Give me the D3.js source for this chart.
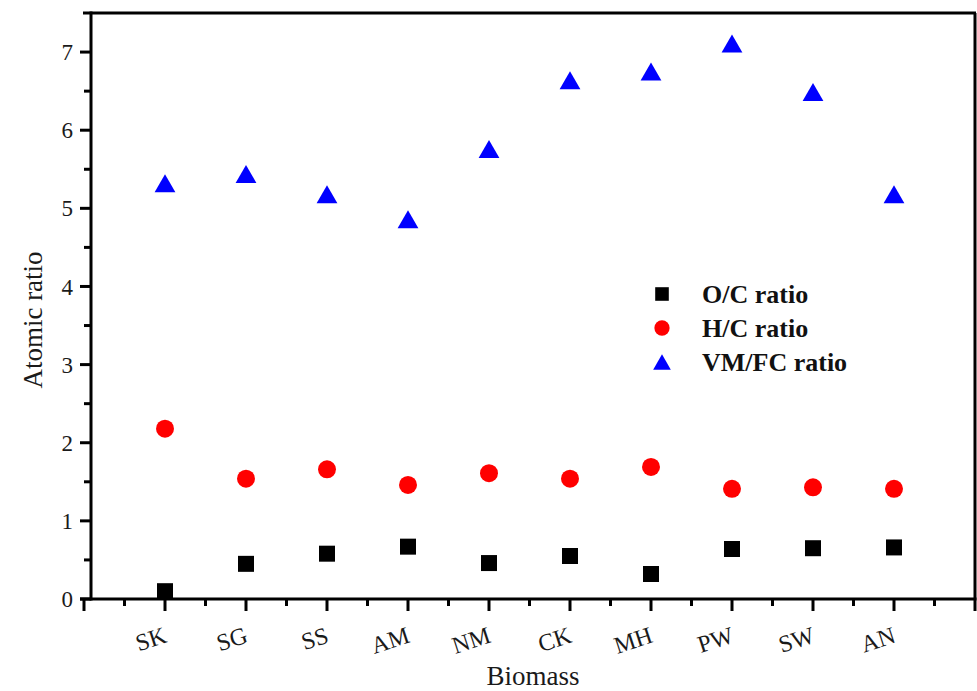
<!DOCTYPE html>
<html>
<head>
<meta charset="utf-8">
<script src="https://cdn.jsdelivr.net/npm/d3@7"></script>
<style>
  body { margin: 0; background: #fff; }
  text { font-family: "Liberation Serif", "Times New Roman", serif; }
</style>
</head>
<body>
<div id="chart"></div>
<script>
const biomass = ["SK", "SG", "SS", "AM", "NM", "CK", "MH", "PW", "SW", "AN"];
const ocRatio = [0.10, 0.45, 0.58, 0.67, 0.46, 0.55, 0.32, 0.64, 0.65, 0.66];
const hcRatio = [2.18, 1.54, 1.66, 1.46, 1.61, 1.54, 1.69, 1.41, 1.43, 1.41];
const vmfcRatio = [5.32, 5.44, 5.18, 4.86, 5.76, 6.64, 6.75, 7.11, 6.49, 5.18];
const yTicks = [0, 1, 2, 3, 4, 5, 6, 7];
const legendNames = ["O/C ratio", "H/C ratio", "VM/FC ratio"];

const width = 977;
const height = 691;

const svg = d3.select("#chart")
  .append("svg")
  .attr("width", width)
  .attr("height", height)
  .attr("viewBox", [0, 0, width, height]);

const x = d3.scaleLinear()
  .domain([0, biomass.length + 1])
  .range([84, 975]);

const y = d3.scaleLinear()
  .domain([0, 7.5])
  .range([599, 13]);

const yAxisX = 91;
const axisW = 3;

// marker shapes
const square = d3.symbol().type(d3.symbolSquare).size(256)();
const circle = d3.symbol().type(d3.symbolCircle).size(254)();
const triangle = "M0,-9L10.4,9L-10.4,9Z";

const series = [
  { name: legendNames[0], values: ocRatio, path: square, color: "#000000" },
  { name: legendNames[1], values: hcRatio, path: circle, color: "#ff0000" },
  { name: legendNames[2], values: vmfcRatio, path: triangle, color: "#0000ff" }
];

// frame: top and right lines
svg.append("line")
  .attr("x1", x(0) - 1).attr("x2", x.range()[1] + 1)
  .attr("y1", y(7.5)).attr("y2", y(7.5))
  .attr("stroke", "#000").attr("stroke-width", axisW);
svg.append("line")
  .attr("x1", x.range()[1]).attr("x2", x.range()[1])
  .attr("y1", y(7.5)).attr("y2", y(0))
  .attr("stroke", "#000").attr("stroke-width", axisW);

// x axis, major and minor ticks
const xMajor = d3.range(0, biomass.length + 2);
const xMinor = d3.range(0.5, biomass.length + 1, 1);

const gx = svg.append("g").attr("transform", `translate(0,${y(0)})`);
gx.append("line")
  .attr("x1", x(0) - 4).attr("x2", x.range()[1] + 1.5)
  .attr("stroke", "#000").attr("stroke-width", axisW);
gx.selectAll(".maj").data(xMajor).join("line")
  .attr("x1", d => x(d)).attr("x2", d => x(d))
  .attr("y1", 0).attr("y2", 12)
  .attr("stroke", "#000").attr("stroke-width", axisW);
gx.selectAll(".min").data(xMinor).join("line")
  .attr("x1", d => x(d)).attr("x2", d => x(d))
  .attr("y1", 0).attr("y2", 7)
  .attr("stroke", "#000").attr("stroke-width", axisW);

svg.append("g").selectAll("text").data(biomass).join("text")
  .attr("transform", (d, i) => `translate(${x(i + 1) + 3},642) rotate(-18)`)
  .attr("text-anchor", "end")
  .attr("font-size", 24)
  .attr("fill", "#1a1a1a")
  .text(d => d);

svg.append("text")
  .attr("x", (yAxisX + x.range()[1]) / 2)
  .attr("y", 685)
  .attr("text-anchor", "middle")
  .attr("font-size", 27)
  .attr("fill", "#1a1a1a")
  .text("Biomass");

// y axis
const gy = svg.append("g").attr("transform", `translate(${yAxisX},0)`);
gy.append("line")
  .attr("y1", y(7.5) - 1.5).attr("y2", y(0) + 1.5)
  .attr("stroke", "#000").attr("stroke-width", axisW);
gy.selectAll(".maj").data(yTicks).join("line")
  .attr("y1", d => y(d)).attr("y2", d => y(d))
  .attr("x1", 0).attr("x2", -11)
  .attr("stroke", "#000").attr("stroke-width", axisW);
gy.selectAll(".min").data(d3.range(0.5, 7.5, 1)).join("line")
  .attr("y1", d => y(d)).attr("y2", d => y(d))
  .attr("x1", 0).attr("x2", -7)
  .attr("stroke", "#000").attr("stroke-width", axisW);
gy.selectAll("text").data(yTicks).join("text")
  .attr("x", -18)
  .attr("y", d => y(d))
  .attr("dy", "0.35em")
  .attr("text-anchor", "end")
  .attr("font-size", 23)
  .attr("fill", "#1a1a1a")
  .text(d => d);

svg.append("text")
  .attr("transform", `translate(42,${(y(0) + y(7.5)) / 2 + 14}) rotate(-90)`)
  .attr("text-anchor", "middle")
  .attr("font-size", 27)
  .attr("fill", "#1a1a1a")
  .text("Atomic ratio");

// points
series.forEach(s => {
  svg.append("g").selectAll("path").data(s.values).join("path")
    .attr("transform", (d, i) => `translate(${x(i + 1)},${y(d)})`)
    .attr("d", s.path)
    .attr("fill", s.color);
});

// legend
const legend = svg.append("g").attr("transform", "translate(662,294)");
series.forEach((s, i) => {
  const row = legend.append("g").attr("transform", `translate(0,${i * 34})`);
  row.append("path")
    .attr("d", s.path)
    .attr("transform", "scale(0.85)")
    .attr("fill", s.color);
  row.append("text")
    .attr("x", 40)
    .attr("y", 9)
    .attr("font-size", 26)
    .attr("font-weight", "bold")
    .attr("fill", "#111")
    .text(s.name);
});
</script>
</body>
</html>
